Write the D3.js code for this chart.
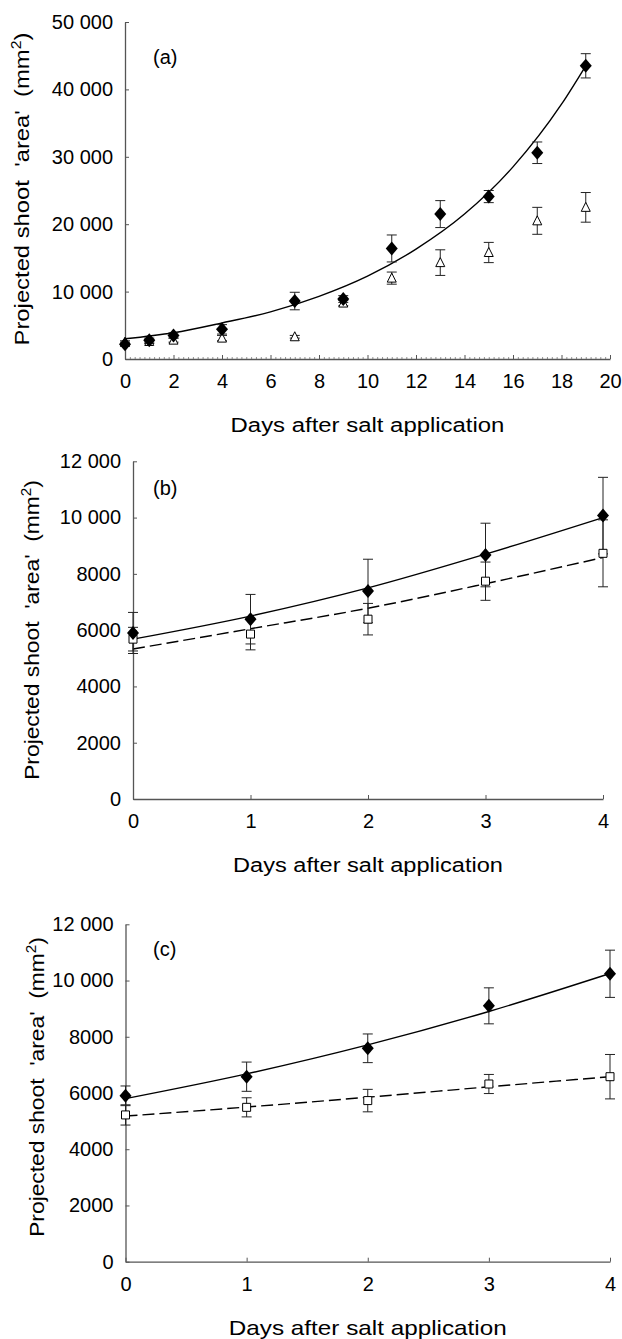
<!DOCTYPE html>
<html>
<head>
<meta charset="utf-8">
<script src="https://cdn.jsdelivr.net/npm/d3@7"></script>
<style>
    body { margin: 0; background: #fff; }
    svg { display: block; }
</style>
</head>
<body>
<div id="chart"></div>
<script>
"use strict";
(function () {
    // ---- data ----
    // panel (a): control (filled diamonds) and salt (open triangles)
    const daysA = [0, 1, 2, 4, 7, 9, 11, 13, 15, 17, 19]
    const controlA = [2200, 2800, 3500, 4400, 8600, 8900, 16400, 21500, 24100, 30600, 43500]
    const controlAErr = [300, 300, 400, 700, 1300, 500, 2000, 2000, 900, 1600, 1800]
    const saltA = [2500, 2600, 2800, 3100, 3300, 8300, 12000, 14300, 15800, 20500, 22500]
    const saltAErr = [200, 300, 300, 400, 200, 400, 900, 1900, 1500, 2000, 2200]
    // fitted curve for control
    const fitDaysA = [0, 2, 4, 6, 8, 10, 12, 14, 16, 18, 19]
    const fitControlA = [3000, 3900, 5350, 7000, 9300, 12300, 16300, 21500, 28500, 37800, 43500]

    // panel (b): control (filled diamonds) and salt (open squares)
    const daysB = [0, 1, 2, 3, 4]
    const controlB = [5900, 6390, 7390, 8670, 10070]
    const controlBErr = [730, 880, 1130, 1130, 1360]
    const saltB = [5680, 5860, 6390, 7740, 8730]
    const saltBErr = [420, 560, 560, 680, 1190]
    const fitControlB = [5680, 6500, 7500, 8700, 10000]
    const fitSaltB = [5330, 6050, 6780, 7650, 8580]

    // panel (c)
    const daysC = [0, 1, 2, 3, 4]
    const controlC = [5900, 6580, 7590, 9100, 10240]
    const controlCErr = [350, 520, 510, 640, 840]
    const saltC = [5220, 5490, 5730, 6320, 6580]
    const saltCErr = [360, 340, 400, 340, 790]
    const fitControlC = [5800, 6680, 7710, 8900, 10250]
    const fitSaltC = [5180, 5500, 5850, 6220, 6580]

    // tick values / labels
    const xTicksA = [0, 2, 4, 6, 8, 10, 12, 14, 16, 18, 20]
    const yTicksA = [0, 10000, 20000, 30000, 40000, 50000]
    const yLabelsA = ["0", "10 000", "20 000", "30 000", "40 000", "50 000"]
    const xTicksBC = [0, 1, 2, 3, 4]
    const yTicksBC = [0, 2000, 4000, 6000, 8000, 10000, 12000]
    const yLabelsBC = ["0", "2000", "4000", "6000", "8000", "10 000", "12 000"]

    const xTitle = "Days after salt application"
    const FONT = "'Liberation Sans', Arial, Helvetica, sans-serif"
    const AXIS = "#555"

    const svg = d3.select("#chart").append("svg")
        .attr("width", 622)
        .attr("height", 1339)
        .style("font-family", FONT)

    svg.append("rect").attr("width", 622).attr("height", 1339).attr("fill", "#fff")

    const panels = [
        {
            label: "(a)", left: 125, right: 610, top: 22, bottom: 359,
            xDomain: [0, 20], yDomain: [0, 50000],
            xTicks: xTicksA, yTicks: yTicksA, yLabels: yLabelsA, minor: 0.2,
            labelPos: [153, 64], xTitleY: 431.5, xTitleLen: 274,
            yTitleX: 29, yTitleY: 189, yTitleLen: 313,
            fits: [{ days: fitDaysA, values: fitControlA, dash: null }],
            series: [
                { days: daysA, values: saltA, err: saltAErr, shape: "triangle" },
                { days: daysA, values: controlA, err: controlAErr, shape: "diamond" }
            ]
        },
        {
            label: "(b)", left: 133, right: 603, top: 461.3, bottom: 799,
            xDomain: [0, 4], yDomain: [0, 12000],
            xTicks: xTicksBC, yTicks: yTicksBC, yLabels: yLabelsBC, minor: null,
            labelPos: [153, 494.5], xTitleY: 871.5, xTitleLen: 270,
            yTitleX: 39, yTitleY: 630, yTitleLen: 300,
            fits: [
                { days: daysB, values: fitSaltB, dash: "12,5" },
                { days: daysB, values: fitControlB, dash: null }
            ],
            series: [
                { days: daysB, values: saltB, err: saltBErr, shape: "square" },
                { days: daysB, values: controlB, err: controlBErr, shape: "diamond" }
            ]
        },
        {
            label: "(c)", left: 125.5, right: 610, top: 924.3, bottom: 1261.7,
            xDomain: [0, 4], yDomain: [0, 12000],
            xTicks: xTicksBC, yTicks: yTicksBC, yLabels: yLabelsBC, minor: null,
            labelPos: [153, 955.5], xTitleY: 1335, xTitleLen: 278,
            yTitleX: 44, yTitleY: 1087, yTitleLen: 300,
            fits: [
                { days: daysC, values: fitSaltC, dash: "12,5" },
                { days: daysC, values: fitControlC, dash: null }
            ],
            series: [
                { days: daysC, values: saltC, err: saltCErr, shape: "square" },
                { days: daysC, values: controlC, err: controlCErr, shape: "diamond" }
            ]
        }
    ]

    panels.forEach(drawPanel)

    function styleAxis(g) {
        g.attr("font-family", FONT).attr("font-size", 20)
        g.select(".domain").attr("stroke", AXIS).attr("stroke-width", 1.3)
        g.selectAll(".tick line").attr("stroke", AXIS).attr("stroke-width", 1)
        g.selectAll(".tick text").attr("fill", "#000")
    }

    function drawPanel(p) {
        const scaleX = d3.scaleLinear().domain(p.xDomain).range([p.left, p.right])
        const scaleY = d3.scaleLinear().domain(p.yDomain).range([p.bottom, p.top])
        const g = svg.append("g")

        // minor ticks on the x axis (panel a only)
        if (p.minor) {
            const minorTicks = d3.range(p.xDomain[0], p.xDomain[1] + 1e-9, p.minor)
                .filter(v => Math.abs(v / 2 - Math.round(v / 2)) > 1e-6)
            g.append("g")
                .attr("transform", `translate(0,${p.bottom})`)
                .call(d3.axisBottom(scaleX).tickValues(minorTicks).tickSizeInner(-2).tickSizeOuter(0).tickFormat(""))
                .call(a => a.select(".domain").remove())
                .selectAll(".tick line").attr("stroke", "#777").attr("stroke-width", 0.8)
        }

        g.append("g")
            .attr("transform", `translate(0,${p.bottom})`)
            .call(d3.axisBottom(scaleX).tickValues(p.xTicks).tickFormat(d3.format("d"))
                .tickSizeInner(-4).tickSizeOuter(0).tickPadding(15))
            .call(styleAxis)

        g.append("g")
            .attr("transform", `translate(${p.left},0)`)
            .call(d3.axisLeft(scaleY).tickValues(p.yTicks).tickFormat((d, i) => p.yLabels[i])
                .tickSizeInner(-4).tickSizeOuter(0).tickPadding(12))
            .call(styleAxis)

        // fitted curves
        const line = d3.line()
            .x((d) => scaleX(d[0]))
            .y((d) => scaleY(d[1]))
            .curve(d3.curveMonotoneX)
        p.fits.forEach(f => {
            g.append("path")
                .datum(f.days.map((d, i) => [d, f.values[i]]))
                .attr("d", line)
                .attr("fill", "none")
                .attr("stroke", "#000")
                .attr("stroke-width", 1.4)
                .attr("stroke-dasharray", f.dash)
        })

        // error bars
        p.series.forEach(s => {
            const rows = s.days.map((d, i) => ({ x: d, v: s.values[i], e: s.err[i] }))
            const eb = g.append("g").attr("stroke", "#222").attr("stroke-width", 1)
            rows.forEach(r => {
                const cx = scaleX(r.x)
                const y1 = scaleY(r.v + r.e)
                const y2 = scaleY(r.v - r.e)
                eb.append("line").attr("x1", cx).attr("x2", cx).attr("y1", y1).attr("y2", y2)
                eb.append("line").attr("x1", cx - 5).attr("x2", cx + 5).attr("y1", y1).attr("y2", y1)
                eb.append("line").attr("x1", cx - 5).attr("x2", cx + 5).attr("y1", y2).attr("y2", y2)
            })
        })

        // markers
        p.series.forEach(s => {
            const rows = s.days.map((d, i) => ({ x: d, v: s.values[i] }))
            const sel = g.append("g").selectAll("path")
                .data(rows)
                .enter()
                .append("path")
                .attr("d", function (d) {
                    const cx = scaleX(d.x), cy = scaleY(d.v)
                    if (s.shape === "diamond") {
                        return `M${cx},${cy - 7}L${cx + 6},${cy}L${cx},${cy + 7}L${cx - 6},${cy}Z`
                    } else if (s.shape === "square") {
                        return `M${cx - 4},${cy - 4}h8v8h-8Z`
                    }
                    return `M${cx},${cy - 5}L${cx + 4.5},${cy + 4}L${cx - 4.5},${cy + 4}Z`
                })
            if (s.shape === "diamond") {
                sel.attr("fill", "#000")
            } else {
                sel.attr("fill", "#fff").attr("stroke", "#000").attr("stroke-width", 1)
            }
        })

        // panel label
        g.append("text")
            .attr("x", p.labelPos[0])
            .attr("y", p.labelPos[1])
            .attr("font-size", 20)
            .text(p.label)

        // x title
        const xt = g.append("text")
            .attr("text-anchor", "middle")
            .attr("font-size", 21)
            .text(xTitle)
        const xs = p.xTitleLen / xt.node().getComputedTextLength()
        xt.attr("transform", `translate(${(p.left + p.right) / 2},${p.xTitleY}) scale(${xs},1)`)

        // y title
        const yt = g.append("text")
            .attr("text-anchor", "middle")
            .attr("font-size", 21)
            .style("white-space", "pre")
        yt.append("tspan").text("Projected shoot  'area'  (mm")
        yt.append("tspan").attr("font-size", 14).attr("dy", -8).text("2")
        yt.append("tspan").attr("dy", 8).text(")")
        const ys = p.yTitleLen / yt.node().getComputedTextLength()
        yt.attr("transform", `translate(${p.yTitleX},${p.yTitleY}) rotate(-90) scale(${ys},1)`)
    }
})()
</script>
</body>
</html>
